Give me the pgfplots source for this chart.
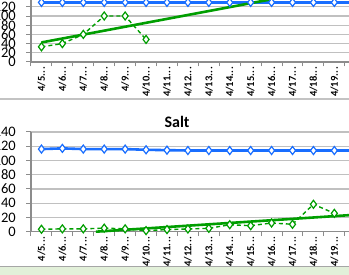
\documentclass[border=0pt]{standalone}
\usepackage{fontspec}
\setmainfont{Carlito}
\usepackage{pgfplots}
\pgfplotsset{compat=1.18}
\newcommand{\dd}{.\kern0.4pt.\kern0.4pt.}
\definecolor{exblue}{RGB}{25,110,255}
\definecolor{exgreen}{RGB}{0,158,0}
\definecolor{gridgray}{RGB}{192,192,192}
\definecolor{axgray}{RGB}{140,140,140}
\definecolor{sepgray}{RGB}{195,195,195}
\definecolor{lightgreen}{RGB}{226,240,217}
\pgfplotsset{
  excel/.style={
    scale only axis, width=318pt,
    xmin=-0.5, xmax=14.7, ymin=0,
    axis lines=left,
    axis line style={draw=axgray, line width=1.5pt, -},
    clip=false,
    tick align=outside, major tick length=4.5pt,
    tick style={draw=axgray, line width=1pt},
    xtick={-0.5,0.5,1.5,2.5,3.5,4.5,5.5,6.5,7.5,8.5,9.5,10.5,11.5,12.5,13.5,14.5,15.5},
    x tick label as interval,
    xticklabels={4/5\dd,4/6\dd,4/7\dd,4/8\dd,4/9\dd,4/10\dd,4/11\dd,4/12\dd,4/13\dd,4/14\dd,4/15\dd,4/16\dd,4/17\dd,4/18\dd,4/19\dd,4/20\dd},
    xticklabel style={rotate=90, anchor=east, inner sep=0.5pt, font=\bfseries\fontsize{10.5}{10.5}\selectfont},
    yticklabel style={inner sep=1pt, xshift=-9.5pt, font=\fontsize{14.5}{14.5}\selectfont},
    /pgf/number format/assume math mode=true,
    ymajorgrids, major grid style={draw=gridgray, line width=1.3pt},
  },
  blueline/.style={color=exblue, line width=2.6pt, mark=diamond*, mark size=4pt, mark options={fill=white, draw=exblue, line width=1.2pt, solid}},
  greendash/.style={color=exgreen, line width=1.4pt, dashed, dash pattern=on 4pt off 3pt, mark=diamond*, mark size=4pt, mark options={fill=white, draw=exgreen, line width=1.2pt, solid}},
  trend/.style={color=exgreen, line width=2.6pt, no marks},
}
\begin{document}
\begin{tikzpicture}
\useasboundingbox (0,0) rectangle (349pt,275pt);
\clip (0,0) rectangle (349pt,275pt);
\fill[white] (0,0) rectangle (349pt,275pt);
% top chart (cut off)
\begin{axis}[excel, at={(31pt,213pt)}, anchor=south west, height=62pt, ymax=134.8,
  ytick={0,20,40,60,80,100,120}]
\addplot[blueline] coordinates {(0,129.5)(1,129.5)(2,129.5)(3,129.5)(4,129.5)(5,129.5)(6,129.5)(7,129.5)(8,129.5)(9,129.5)(10,129.5)(11,129.5)(12,129.5)(13,129.5)(14,129.5)(15,129.5)};
\addplot[greendash] coordinates {(0,33)(1,40)(2,60)(3,100)(4,100)(5,49)};
\addplot[trend] coordinates {(0,42.5)(14.7,168)};
\end{axis}
% separator
\draw[sepgray, line width=2pt] (0,176pt) -- (349pt,176pt);
% bottom chart
\node[font=\bfseries\fontsize{16}{16}\selectfont] at (177pt,153.5pt) {Salt};
\begin{axis}[excel, at={(31pt,43.3pt)}, anchor=south west, height=99.7pt, ymax=140,
  ytick={0,20,40,60,80,100,120,140}]
\addplot[blueline] coordinates {(0,116)(1,117)(2,116)(3,116)(4,116)(5,115)(6,114.5)(7,114)(8,114)(9,114)(10,114)(11,114)(12,114)(13,114)(14,114)(15,114)};
\addplot[greendash] coordinates {(0,3.4)(1,4)(2,4)(3,5)(4,4)(5,1.5)(6,3)(7,3.8)(8,4.7)(9,9.8)(10,8.4)(11,12.2)(12,10.4)(13,38.5)(14,25.8)};
\addplot[trend] coordinates {(2.6,0)(14.7,23.2)};
\end{axis}
% bottom border and green band
\fill[lightgreen] (0,0) rectangle (349pt,7.5pt);
\draw[sepgray!85!black, line width=1.8pt] (0,8.5pt) -- (349pt,8.5pt);
\end{tikzpicture}
\end{document}
